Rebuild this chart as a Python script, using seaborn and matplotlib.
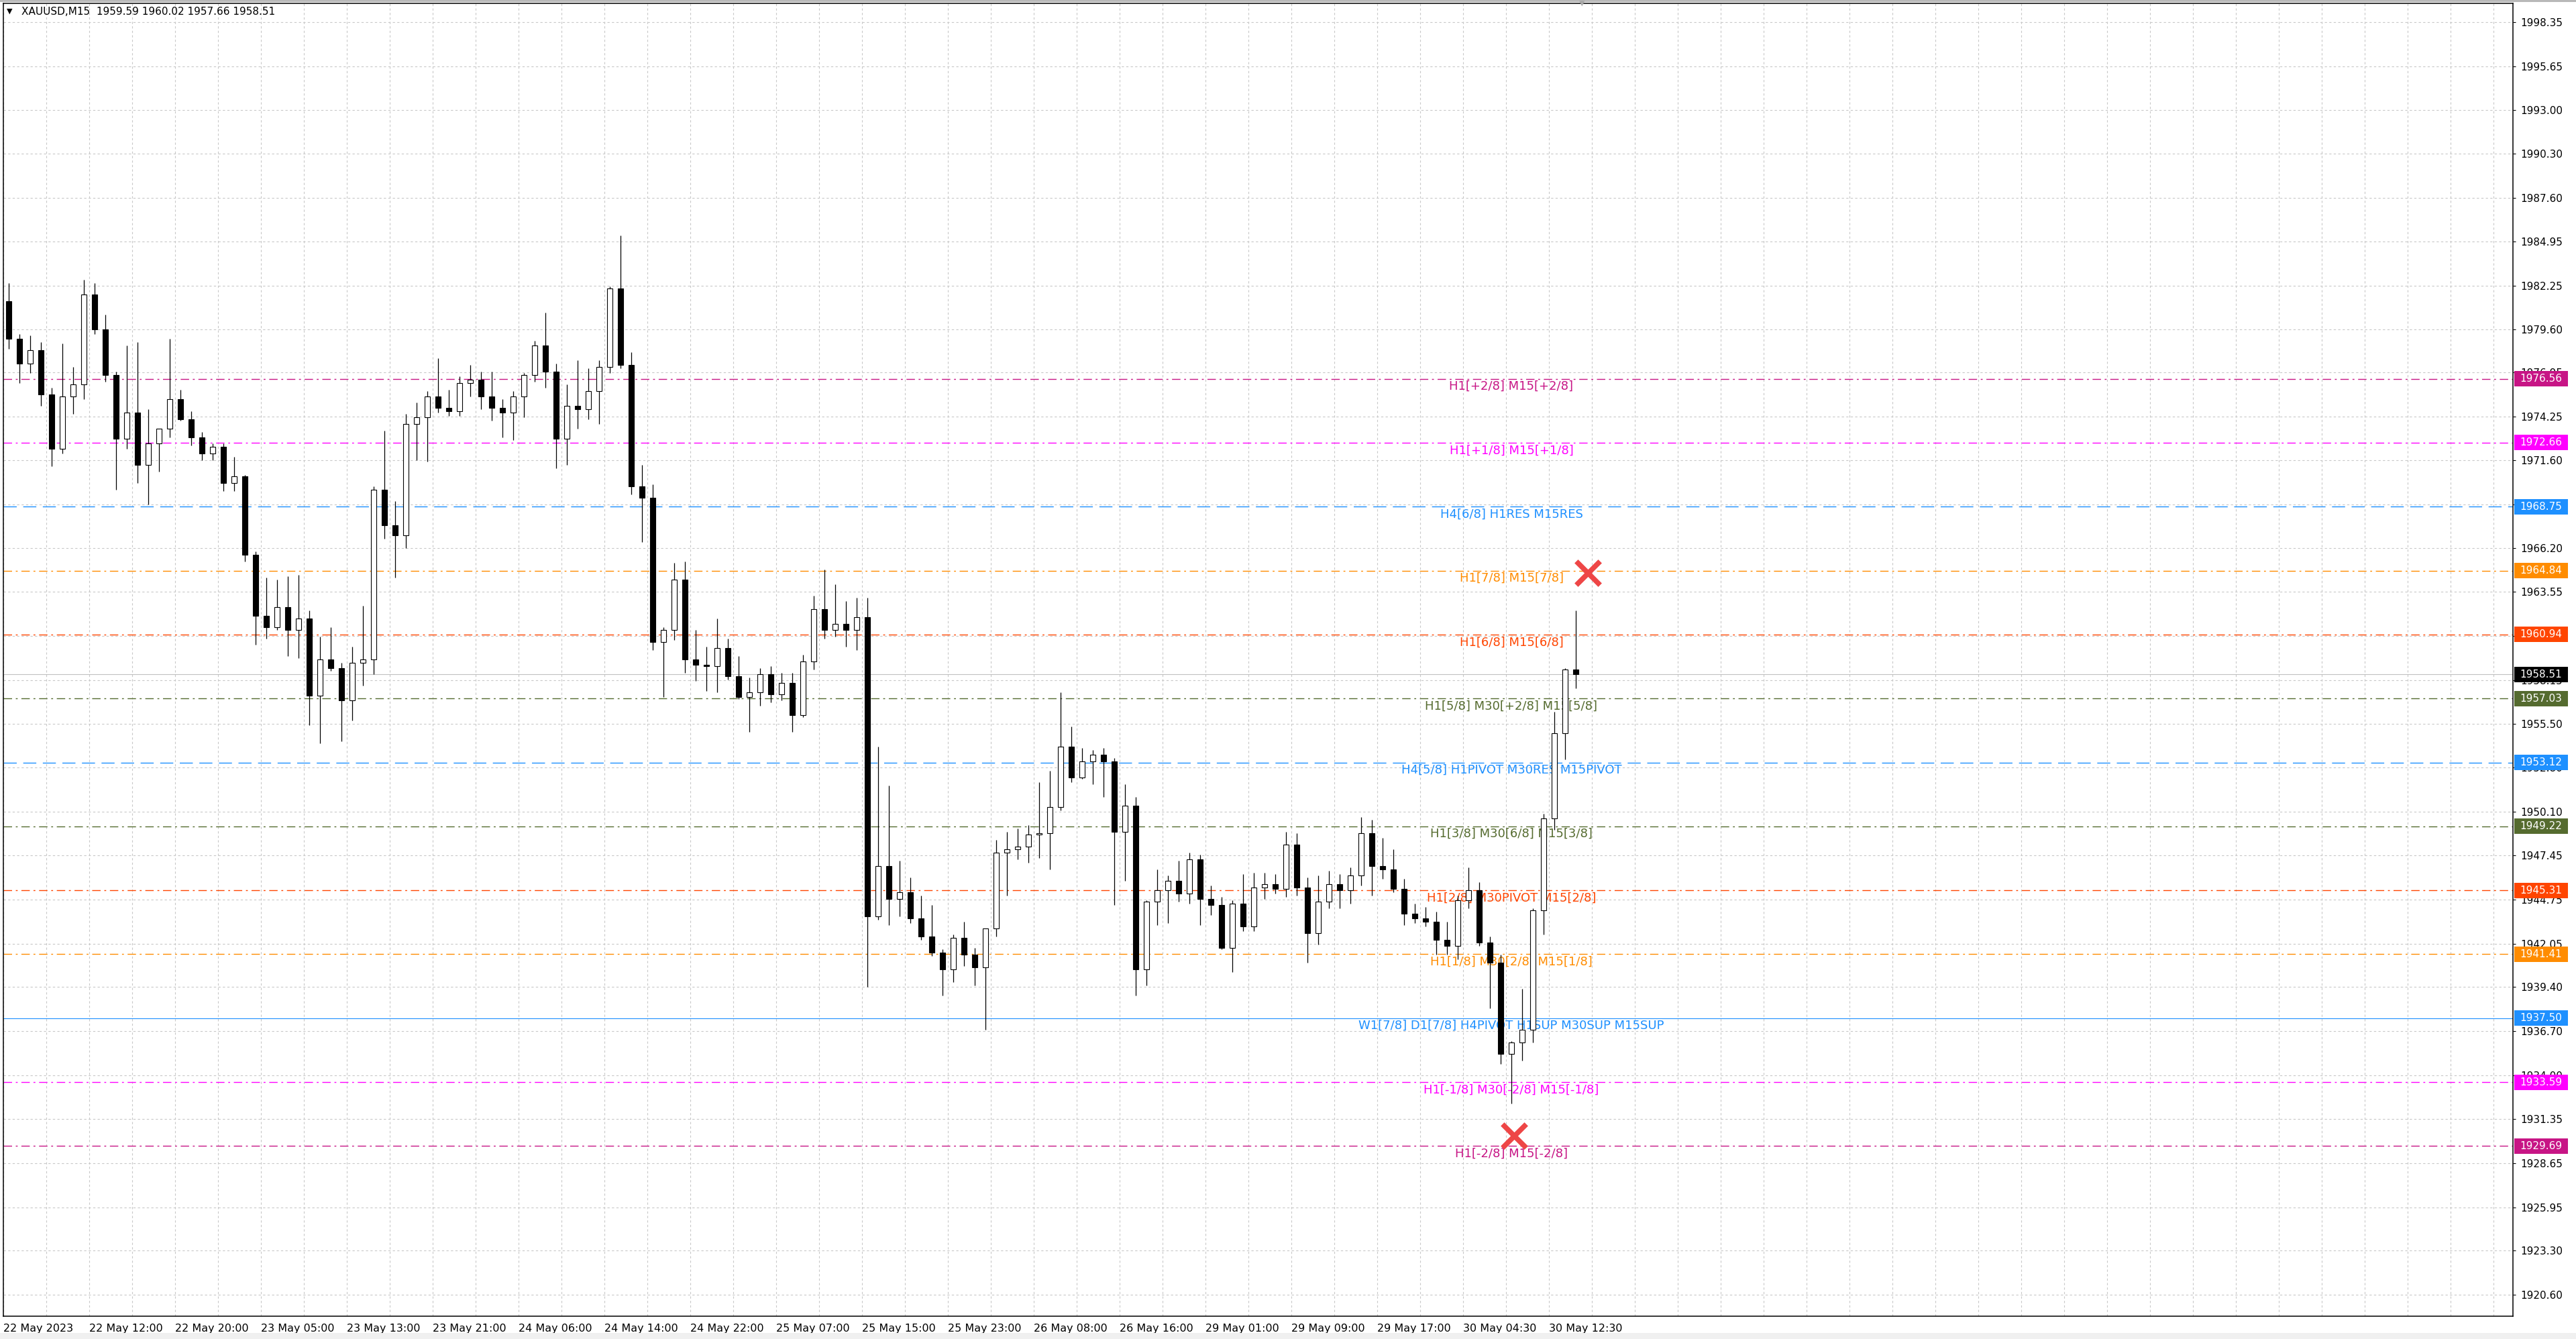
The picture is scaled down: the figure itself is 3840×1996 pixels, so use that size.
import numpy as np
import pandas as pd
import matplotlib
matplotlib.use("Agg")
import matplotlib.pyplot as plt
import matplotlib.transforms as mtransforms
from matplotlib.patches import Rectangle
import seaborn as sns

W, H = 3840, 1996

# hourly OHLC (22 May 04:00 -> 30 May 14:00)
opens = [1981.3, 1979.0, 1977.5, 1978.3, 1975.6, 1972.3, 1975.5, 1976.2, 1981.7, 1979.6,
         1976.8, 1972.9, 1974.5, 1971.3, 1972.6, 1973.5, 1975.3, 1974.1, 1973.0, 1972.0,
         1972.4, 1970.2, 1970.6, 1965.8, 1962.1, 1961.4, 1962.6, 1961.2, 1961.9, 1957.2,
         1959.4, 1958.9, 1956.9, 1959.2, 1959.4, 1969.8, 1967.6, 1967.0, 1973.8, 1974.2,
         1975.5, 1974.8, 1974.6, 1976.3, 1976.5, 1975.5, 1974.8, 1974.5, 1975.5, 1976.8,
         1978.6, 1977.0, 1972.9, 1974.9, 1974.7, 1975.8, 1977.3, 1982.1, 1977.4, 1970.0,
         1969.3, 1960.5, 1961.2, 1964.3, 1959.4, 1959.1, 1959.0, 1960.1, 1958.4, 1957.1,
         1957.4, 1958.5, 1957.3, 1958.0, 1956.0, 1959.3, 1962.5, 1961.2, 1961.6, 1961.2,
         1962.0, 1943.7, 1946.8, 1944.8, 1945.2, 1943.6, 1942.5, 1941.5, 1940.5, 1942.4,
         1941.4, 1940.6, 1943.0, 1947.6, 1947.8, 1948.0, 1948.7, 1948.8, 1950.4, 1954.1,
         1952.2, 1953.2, 1953.6, 1953.2, 1948.9, 1950.5, 1940.5, 1944.6, 1945.3, 1945.9,
         1945.1, 1947.2, 1944.8, 1944.4, 1941.8, 1944.5, 1943.1, 1945.5, 1945.7, 1945.4,
         1948.1, 1945.5, 1942.7, 1944.6, 1945.7, 1945.3, 1946.2, 1948.8, 1946.8, 1946.6,
         1945.4, 1943.9, 1943.6, 1943.4, 1942.3, 1941.9, 1944.7, 1945.3, 1942.1, 1940.9,
         1935.3, 1936.0, 1936.8, 1944.1, 1949.7, 1954.9, 1958.8]
highs = [1982.4, 1979.3, 1979.2, 1978.8, 1976.0, 1978.7, 1977.3, 1982.6, 1982.4, 1980.5,
         1977.0, 1978.6, 1978.8, 1974.7, 1973.5, 1979.0, 1975.9, 1974.6, 1973.3, 1972.6,
         1972.6, 1971.8, 1970.7, 1966.0, 1964.4, 1964.3, 1964.5, 1964.6, 1962.4, 1960.8,
         1961.4, 1959.2, 1960.2, 1962.7, 1970.0, 1973.4, 1969.1, 1974.4, 1975.1, 1975.8,
         1977.8, 1975.9, 1976.7, 1977.4, 1977.0, 1977.0, 1975.3, 1975.8, 1976.9, 1978.9,
         1980.6, 1977.5, 1976.2, 1977.7, 1977.2, 1977.7, 1982.2, 1985.3, 1978.2, 1971.3,
         1970.1, 1961.4, 1965.3, 1965.4, 1961.2, 1960.2, 1961.9, 1960.7, 1959.6, 1958.3,
         1958.9, 1959.0, 1958.6, 1958.6, 1959.7, 1963.3, 1964.9, 1964.0, 1963.0, 1963.2,
         1963.2, 1954.1, 1951.7, 1947.1, 1946.1, 1945.0, 1944.4, 1941.7, 1942.6, 1943.4,
         1941.8, 1943.0, 1948.4, 1948.9, 1949.1, 1949.3, 1951.9, 1952.6, 1957.4, 1955.3,
         1954.0, 1953.9, 1954.0, 1953.4, 1951.8, 1951.0, 1944.7, 1946.6, 1946.2, 1947.1,
         1947.6, 1947.5, 1945.6, 1944.9, 1944.7, 1946.3, 1946.4, 1946.4, 1946.3, 1948.9,
         1948.8, 1946.1, 1946.2, 1946.5, 1946.3, 1946.7, 1949.8, 1949.6, 1948.5, 1947.8,
         1946.0, 1944.5, 1944.3, 1944.0, 1943.4, 1945.0, 1946.7, 1945.8, 1942.5, 1941.4,
         1936.1, 1939.3, 1944.2, 1950.0, 1956.2, 1958.9, 1962.4]
lows = [1978.4, 1976.3, 1976.9, 1974.9, 1971.2, 1972.0, 1974.4, 1975.3, 1979.3, 1976.4,
        1969.8, 1972.3, 1970.2, 1968.9, 1970.9, 1973.0, 1974.0, 1972.5, 1971.6, 1971.6,
        1969.7, 1969.7, 1965.4, 1960.3, 1960.7, 1961.2, 1959.6, 1959.5, 1955.4, 1954.3,
        1958.7, 1954.4, 1955.7, 1957.8, 1958.5, 1966.8, 1964.4, 1966.2, 1971.6, 1971.5,
        1974.5, 1974.3, 1974.3, 1975.5, 1974.7, 1974.0, 1973.0, 1972.8, 1974.2, 1976.4,
        1976.0, 1971.1, 1971.3, 1973.5, 1974.1, 1973.8, 1976.9, 1977.2, 1969.5, 1966.6,
        1960.0, 1957.1, 1960.6, 1958.6, 1958.1, 1957.5, 1957.4, 1958.2, 1957.0, 1955.0,
        1956.6, 1956.8, 1956.9, 1955.0, 1955.9, 1958.8, 1960.7, 1960.8, 1960.2, 1960.0,
        1939.4, 1943.5, 1943.2, 1943.7, 1943.3, 1942.3, 1941.3, 1938.9, 1939.7, 1940.7,
        1939.5, 1936.8, 1942.5, 1945.0, 1947.2, 1947.0, 1947.3, 1946.6, 1950.2, 1951.9,
        1952.1, 1951.8, 1951.0, 1944.4, 1945.9, 1938.9, 1939.5, 1943.2, 1943.3, 1944.6,
        1944.5, 1943.2, 1943.8, 1941.7, 1940.3, 1942.8, 1942.8, 1944.8, 1945.1, 1944.9,
        1945.0, 1940.9, 1942.0, 1944.2, 1944.2, 1944.5, 1945.6, 1945.0, 1946.0, 1945.2,
        1943.2, 1943.3, 1943.1, 1941.4, 1941.4, 1941.1, 1944.2, 1941.9, 1938.1, 1934.7,
        1932.3, 1934.9, 1936.0, 1942.6, 1949.0, 1953.3, 1957.66]
closes = [1979.0, 1977.5, 1978.3, 1975.6, 1972.3, 1975.5, 1976.2, 1981.7, 1979.6, 1976.8,
          1972.9, 1974.5, 1971.3, 1972.6, 1973.5, 1975.3, 1974.1, 1973.0, 1972.0, 1972.4,
          1970.2, 1970.6, 1965.8, 1962.1, 1961.4, 1962.6, 1961.2, 1961.9, 1957.2, 1959.4,
          1958.9, 1956.9, 1959.2, 1959.4, 1969.8, 1967.6, 1967.0, 1973.8, 1974.2, 1975.5,
          1974.8, 1974.6, 1976.3, 1976.5, 1975.5, 1974.8, 1974.5, 1975.5, 1976.8, 1978.6,
          1977.0, 1972.9, 1974.9, 1974.7, 1975.8, 1977.3, 1982.1, 1977.4, 1970.0, 1969.3,
          1960.5, 1961.2, 1964.3, 1959.4, 1959.1, 1959.0, 1960.1, 1958.4, 1957.1, 1957.4,
          1958.5, 1957.3, 1958.0, 1956.0, 1959.3, 1962.5, 1961.2, 1961.6, 1961.2, 1962.0,
          1943.7, 1946.8, 1944.8, 1945.2, 1943.6, 1942.5, 1941.5, 1940.5, 1942.4, 1941.4,
          1940.6, 1943.0, 1947.6, 1947.8, 1948.0, 1948.7, 1948.8, 1950.4, 1954.1, 1952.2,
          1953.2, 1953.6, 1953.2, 1948.9, 1950.5, 1940.5, 1944.6, 1945.3, 1945.9, 1945.1,
          1947.2, 1944.8, 1944.4, 1941.8, 1944.5, 1943.1, 1945.5, 1945.7, 1945.4, 1948.1,
          1945.5, 1942.7, 1944.6, 1945.7, 1945.3, 1946.2, 1948.8, 1946.8, 1946.6, 1945.4,
          1943.9, 1943.6, 1943.4, 1942.3, 1941.9, 1944.7, 1945.3, 1942.1, 1940.9, 1935.3,
          1936.0, 1936.8, 1944.1, 1949.7, 1954.9, 1958.8, 1958.51]

# murrey levels on the right
level_prices = [1976.56, 1972.66, 1968.75, 1964.84, 1960.94, 1957.03, 1953.12,
                1949.22, 1945.31, 1941.41, 1937.50, 1933.59, 1929.69]
level_names = ["H1[+2/8] M15[+2/8]", "H1[+1/8] M15[+1/8]", "H4[6/8] H1RES M15RES",
               "H1[7/8] M15[7/8]", "H1[6/8] M15[6/8]", "H1[5/8] M30[+2/8] M15[5/8]",
               "H4[5/8] H1PIVOT M30RES M15PIVOT", "H1[3/8] M30[6/8] M15[3/8]",
               "H1[2/8] M30PIVOT M15[2/8]", "H1[1/8] M30[2/8] M15[1/8]",
               "W1[7/8] D1[7/8] H4PIVOT H1SUP M30SUP M15SUP",
               "H1[-1/8] M30[-2/8] M15[-1/8]", "H1[-2/8] M15[-2/8]"]
level_colors = ["#C71585", "#FF00FF", "#1E90FF", "#FF8C00", "#FF4500", "#556B2F", "#1E90FF",
                "#556B2F", "#FF4500", "#FF8C00", "#1E90FF", "#FF00FF", "#C71585"]
level_kind = ["dashdot", "dashdot", "dash", "dashdot", "dashdot", "dashdot", "dash",
              "dashdot", "dashdot", "dashdot", "solid", "dashdot", "dashdot"]

last_price = 1958.51
header = "XAUUSD,M15  1959.59 1960.02 1957.66 1958.51"

y_ticks = [1998.35, 1995.65, 1993.00, 1990.30, 1987.60, 1984.95, 1982.25, 1979.60, 1976.95,
           1974.25, 1971.60, 1968.90, 1966.20, 1963.55, 1960.85, 1958.15, 1955.50, 1952.80,
           1950.10, 1947.45, 1944.75, 1942.05, 1939.40, 1936.70, 1934.00, 1931.35, 1928.65,
           1925.95, 1923.30, 1920.60]

# x positions in M15 bars
x_tick_bars = [0, 32, 64, 96, 128, 160, 192, 224, 256, 288, 320, 352, 384, 416, 448, 480,
               512, 544, 576]
x_tick_labels = ["22 May 2023", "22 May 12:00", "22 May 20:00", "23 May 05:00", "23 May 13:00",
                 "23 May 21:00", "24 May 06:00", "24 May 14:00", "24 May 22:00", "25 May 07:00",
                 "25 May 15:00", "25 May 23:00", "26 May 08:00", "26 May 16:00", "29 May 01:00",
                 "29 May 09:00", "29 May 17:00", "30 May 04:30", "30 May 12:30"]

cross_bars = [590.5, 563.0]
cross_prices = [1964.7, 1930.3]

sns.set_style("white")
plt.rcParams["font.family"] = ["DejaVu Sans"]

df = pd.DataFrame({"o": opens, "h": highs, "l": lows, "c": closes})
df["x"] = df.index * 4 + 2
df["bottom"] = df[["o", "c"]].min(axis=1)
df["size"] = (df["c"] - df["o"]).abs().clip(lower=0.06)
up = df["c"] >= df["o"]

fig = plt.figure(figsize=(W / 100, H / 100), dpi=100)
ax = fig.add_axes([5 / W, 34 / H, 3741 / W, 1957 / H])
ax.set_xlim(0, 935.25)
ax.set_ylim(1919.29, 1999.50)

# grid
ax.set_axisbelow(True)
ax.set_yticks(y_ticks)
ax.set_yticklabels([f"{v:.2f}" for v in y_ticks])
ax.set_xticks(x_tick_bars, x_tick_labels, ha="left", fontsize=11.5)
ax.set_xticks(np.arange(16, 936, 16), minor=True)
ax.grid(True, which="both", axis="x", color="#c8c8c8", ls=(0, (3, 3)), lw=0.8)
ax.grid(True, which="major", axis="y", color="#c8c8c8", ls=(0, (3, 3)), lw=0.8)
ax.yaxis.tick_right()
ax.tick_params(axis="y", which="major", right=True, left=False, labelright=True,
               labelleft=False, length=3, pad=5, labelsize=11, colors="black")
ax.tick_params(axis="x", which="major", length=4, pad=4, colors="black")
ax.tick_params(axis="x", which="minor", length=0)
for s in ax.spines.values():
    s.set_color("black")
    s.set_linewidth(1.1)

# level lines and captions
dash_map = {"dashdot": (0, (9, 4, 2, 4)), "dash": (0, (14, 7)), "solid": "-"}
for p, name, col, kind in zip(level_prices, level_names, level_colors, level_kind):
    ax.axhline(p, color=col, ls=dash_map[kind], lw=1.0 if kind != "solid" else 0.8, zorder=2)
    ax.text(562, p - 0.47, name, color=col, ha="center", va="center", fontsize=13, zorder=3)

ax.axhline(last_price, color="#c0c0c0", lw=0.8, zorder=1.5)

# candles
ax.vlines(df["x"], df["l"], df["h"], color="black", lw=0.9, zorder=4)
ax.bar(df["x"][up], df["size"][up], bottom=df["bottom"][up], width=2.2,
       color="white", edgecolor="black", linewidth=0.8, zorder=5)
ax.bar(df["x"][~up], df["size"][~up], bottom=df["bottom"][~up], width=2.2,
       color="black", edgecolor="black", linewidth=0.8, zorder=5)

# red crosses
sns.scatterplot(x=cross_bars, y=cross_prices, marker="x", s=650, color="#ee4646",
                linewidth=5.5, ax=ax, zorder=8, legend=False)

# price boxes on the right axis
blend = mtransforms.blended_transform_factory(ax.transAxes, ax.transData)
box_x0 = 1 + 2 / 3741
box_w = 80 / 3741
for p, col in zip(level_prices + [last_price], level_colors + ["#000000"]):
    ax.add_patch(Rectangle((box_x0, p - 0.47), box_w, 0.94, transform=blend,
                           facecolor=col, edgecolor="none", clip_on=False, zorder=6))
    ax.text(box_x0 + box_w / 2, p, f"{p:.2f}", transform=blend, color="white",
            ha="center", va="center", fontsize=11, zorder=7, clip_on=False)

# header and frame details
fig.text(14 / W, 1 - 17 / H, "\u25bc", fontsize=8, ha="center", va="center", color="black")
fig.text(32 / W, 1 - 17 / H, header, fontsize=11, ha="left", va="center", color="black")
fig.text(2358 / W, 1 - 5 / H, "\u25bc", fontsize=8, ha="center", va="center", color="#a8a8a8")
fig.patches.append(Rectangle((0, 1 - 3 / H), 1, 3 / H, transform=fig.transFigure,
                             facecolor="#b8b8b8", edgecolor="none"))
fig.patches.append(Rectangle((0, 0), 1, 9 / H, transform=fig.transFigure,
                             facecolor="#f0f0f0", edgecolor="none"))

ax.set_xlabel("")
ax.set_ylabel("")
fig.savefig("out.png", dpi=100, facecolor="white")
